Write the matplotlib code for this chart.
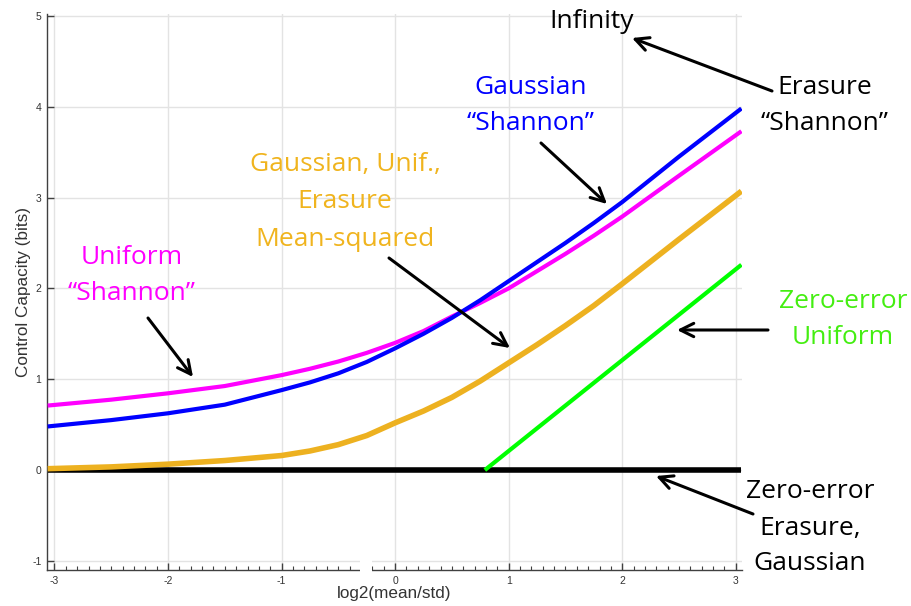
import matplotlib
matplotlib.use("Agg")
import matplotlib.pyplot as plt
from matplotlib.ticker import MultipleLocator
from matplotlib.patches import Rectangle, FancyArrowPatch

plt.rcParams["axes.unicode_minus"] = False

# ---- data ----
x = [-3.06, -2.5, -2.0, -1.5, -1.0, -0.75, -0.5, -0.25, 0.0, 0.25, 0.5, 0.75,
     1.0, 1.25, 1.5, 1.75, 2.0, 2.5, 3.05]
gauss_shannon = [0.48, 0.55, 0.625, 0.72, 0.88, 0.965, 1.065, 1.19, 1.34, 1.50, 1.675, 1.87,
                 2.08, 2.29, 2.50, 2.72, 2.95, 3.45, 3.98]
unif_shannon = [0.71, 0.775, 0.845, 0.925, 1.045, 1.115, 1.195, 1.29, 1.40, 1.53, 1.69, 1.84,
                2.00, 2.19, 2.38, 2.58, 2.79, 3.24, 3.73]
mean_squared = [0.015, 0.035, 0.065, 0.105, 0.16, 0.21, 0.28, 0.38, 0.52, 0.65, 0.80, 0.98,
                1.18, 1.38, 1.59, 1.81, 2.05, 2.54, 3.07]
zero_err_erasure = [0.0] * len(x)
zero_err_unif_x = [0.79, 3.05]
zero_err_unif_y = [0.0, 2.26]

xticks = [-3, -2, -1, 0, 1, 2, 3]
yticks = [-1, 0, 1, 2, 3, 4, 5]

W, H = 912, 606
fig = plt.figure(figsize=(W / 100, H / 100), dpi=100)
ax = fig.add_axes([47 / W, 1 - 570 / H, (742 - 47) / W, (570 - 14) / H])

ax.plot(x, zero_err_erasure, color="black", lw=4, solid_capstyle="butt", zorder=3)
ax.plot(x, mean_squared, color="#EDB120", lw=4, solid_capstyle="butt", zorder=4)
ax.plot(zero_err_unif_x, zero_err_unif_y, color="#00FF00", lw=3, solid_capstyle="butt", zorder=4)
ax.plot(x, unif_shannon, color="#FF00FF", lw=3, solid_capstyle="butt", zorder=5)
ax.plot(x, gauss_shannon, color="#0000FF", lw=3, solid_capstyle="butt", zorder=6)

ax.set_xlim(-3.066, 3.055)
ax.set_ylim(-1.10, 5.02)
ax.set_xticks(xticks)
ax.set_yticks(yticks)
ax.xaxis.set_minor_locator(MultipleLocator(0.1))
ax.grid(True, which="major", color="#E3E3E3", lw=1)
ax.set_axisbelow(True)
for s in ["top", "right"]:
    ax.spines[s].set_visible(False)
for s in ["left", "bottom"]:
    ax.spines[s].set_color("#404040")
    ax.spines[s].set_linewidth(1)
ax.tick_params(which="major", direction="in", length=5, width=1, color="#404040",
               labelsize=7.5, labelcolor="#333333", pad=4)
ax.tick_params(which="minor", direction="in", length=3, width=0.8, color="#404040")
ax.tick_params(axis="y", which="minor", left=False)

lab_font = dict(family="Liberation Sans", color="#333333", fontsize=12.3)
ax.set_xlabel("log2(mean/std)", labelpad=0, **lab_font)
ax.set_ylabel("Control Capacity (bits)", labelpad=1, **lab_font)
for t in ax.get_xticklabels() + ax.get_yticklabels():
    t.set_family("Liberation Sans")


def fp(px, py):
    return (px / W, 1 - py / H)


ann_font = dict(family="Open Sans", fontsize=19, ha="center", va="center")


def label(lines, cx, cy_first, step, color):
    for i, s in enumerate(lines):
        fig.text(*fp(cx, cy_first + i * step), s, color=color, **ann_font)


def arrow(tail, head):
    fig.add_artist(FancyArrowPatch(
        fp(*tail), fp(*head), transform=fig.transFigure,
        arrowstyle="->", mutation_scale=24, lw=2.2, color="black",
        shrinkA=0, shrinkB=0, zorder=10))


label(["Infinity"], 592, 21, 36, "black")
label(["Erasure", "\u201cShannon\u201d"], 825, 88, 36, "black")
label(["Gaussian", "\u201cShannon\u201d"], 531, 87, 36, "#0000FF")
label(["Gaussian, Unif.,", "Erasure", "Mean-squared"], 345, 165, 37, "#F0B41E")
label(["Uniform", "\u201cShannon\u201d"], 132, 258, 36, "#FF00FF")
label(["Zero-error", "Uniform"], 843, 302, 36, "#44EE11")
label(["Zero-error", "Erasure,", "Gaussian"], 810, 492, 36, "black")

arrow((772, 91), (632, 38))
arrow((541, 143), (607, 204))
arrow((389, 258), (510, 348))
arrow((148, 318), (193, 377))
arrow((768, 330), (677, 330))
arrow((753, 514), (656, 476))

# small white gap in the bottom axis (as in the reference)
fig.add_artist(Rectangle(fp(360, 573), 12 / W, 33 / H, transform=fig.transFigure,
                         facecolor="white", edgecolor="none", zorder=20))

fig.savefig("out.png", dpi=100)
